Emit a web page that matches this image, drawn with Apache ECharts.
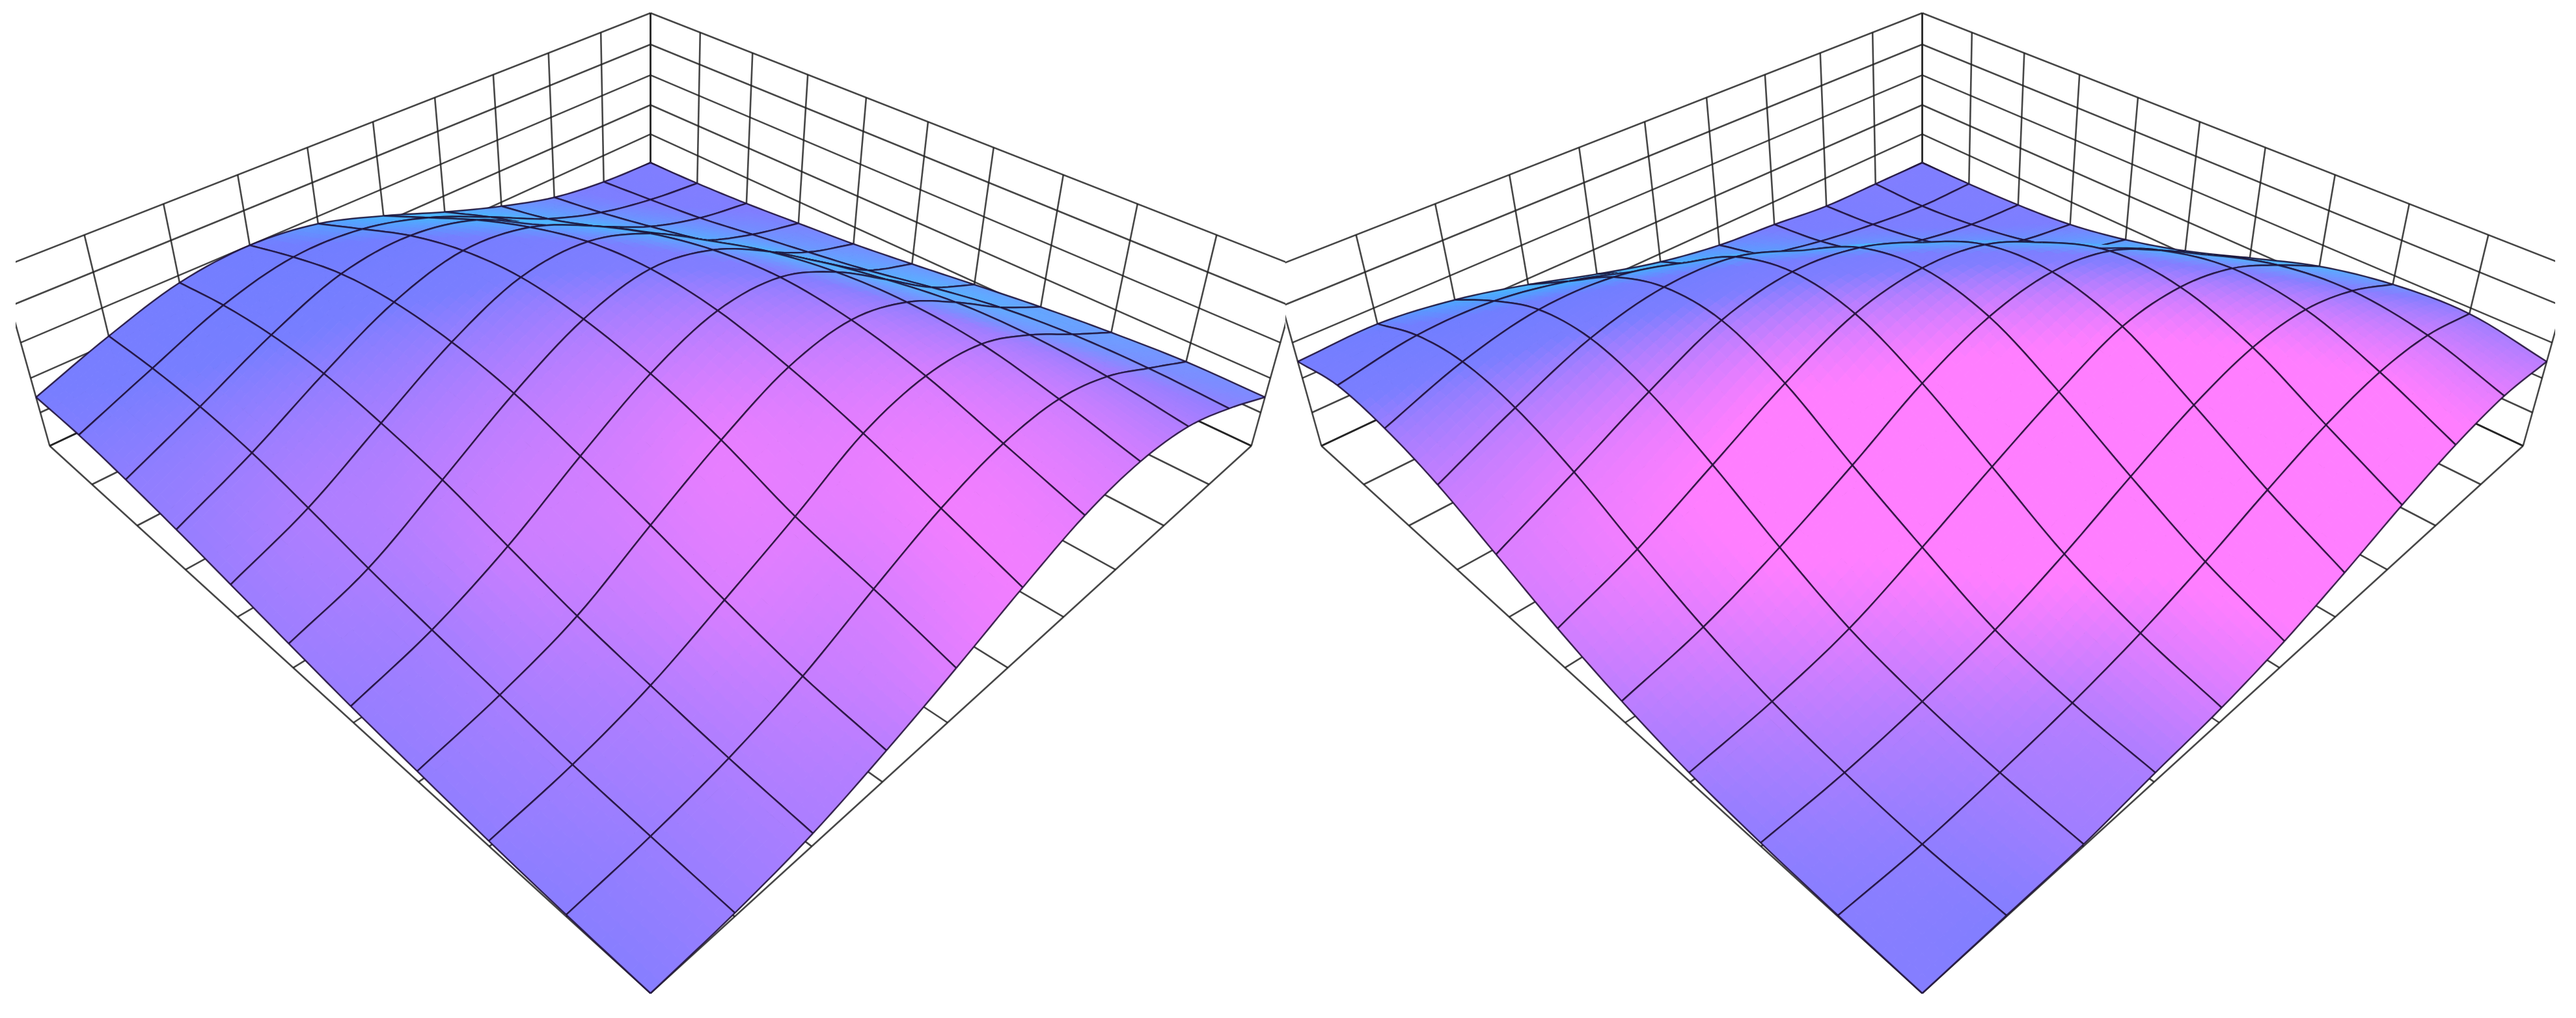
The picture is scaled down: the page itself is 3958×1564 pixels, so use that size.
<!DOCTYPE html>
<html><head><meta charset="utf-8">
<style>html,body{margin:0;padding:0;background:#fff}#c{width:3958px;height:1564px}</style>
<script src="https://cdn.jsdelivr.net/npm/echarts@6/dist/echarts.min.js"></script>
</head><body><div id="c"></div>
<script>
// ---- data: height (0..5) at each mesh node, rows = u, columns = v
const uTicks = [0,1,2,3,4,5,6,7,8,9,10];
const vTicks = [0,1,2,3,4,5,6,7,8,9,10];
const zLevels = [0,1,2,3,4,5];
const heightsLeft = [
 [0,.05,.15,.3,.46,.68,.92,1.15,1.33,1.45,1.45],
 [.1,.28,.48,.77,1.06,1.37,1.75,2.08,2.25,2.28,2.2],
 [.36,.66,1.03,1.44,1.97,2.51,2.89,3.16,3.21,3.08,2.8],
 [.87,1.28,1.87,2.53,3.14,3.68,4.0,4.1,3.95,3.53,3.0],
 [1.5,2.16,2.76,3.56,4.19,4.6,4.76,4.58,4.13,3.47,2.79],
 [2.2,2.97,3.73,4.36,4.82,4.98,4.82,4.36,3.73,2.97,2.2],
 [2.79,3.47,4.13,4.58,4.76,4.6,4.19,3.56,2.76,2.16,1.5],
 [3.0,3.53,3.95,4.1,4.0,3.68,3.14,2.53,1.87,1.28,.87],
 [2.8,3.08,3.21,3.16,2.89,2.51,1.97,1.44,1.03,.66,.36],
 [2.2,2.28,2.25,2.08,1.75,1.37,1.06,.77,.48,.28,.1],
 [1.45,1.45,1.33,1.15,.92,.68,.46,.3,.15,.05,0]
];
const heightsRight = [
 [0,.03,.1,.26,.6,1.1,1.75,2.38,2.75,2.84,2.47],
 [.03,.06,.26,.59,1.14,1.89,2.72,3.30,3.48,3.2,2.55],
 [.06,.26,.59,1.1,1.94,2.91,3.72,4.1,3.9,3.2,2.3],
 [.26,.55,1.06,1.94,2.9,3.94,4.57,4.5,3.86,2.84,1.83],
 [.42,.97,1.76,2.86,3.94,4.74,4.9,4.41,3.37,2.24,1.25],
 [.75,1.55,2.6,3.72,4.66,5.0,4.66,3.72,2.6,1.55,.75],
 [1.25,2.24,3.37,4.41,4.9,4.74,3.94,2.86,1.76,.97,.42],
 [1.83,2.84,3.86,4.5,4.57,3.94,2.9,1.94,1.06,.55,.26],
 [2.3,3.2,3.9,4.1,3.72,2.91,1.94,1.1,.59,.26,.06],
 [2.55,3.2,3.48,3.30,2.72,1.89,1.14,.59,.26,.06,.03],
 [2.47,2.84,2.75,2.38,1.75,1.1,.6,.26,.1,.03,0]
];

// ---- camera: perspective projection of (u,v,z) into axis units
function project(u,v,z){
  const t=u+v, s=u-v, w=1+.04667*t-.0225*z;
  return [135.4*s/w,(1526-52.13*t-89.4*z)/w];
}
function cr(a,b,c,d,f){return .5*(2*b+(c-a)*f+(2*a-5*b+4*c-d)*f*f+(3*b-a-3*c+d)*f*f*f);}
function nodeAt(Z,i,j){
  const n=Z.length-1;
  const a=Math.max(0,Math.min(n,i)), b=Math.max(0,Math.min(n,j));
  let val=Z[a][b];
  if(i<0) val=2*Z[0][b]-Z[1][b]; else if(i>n) val=2*Z[n][b]-Z[n-1][b];
  if(j<0) val=2*Z[a][0]-Z[a][1]; else if(j>n) val=2*Z[a][n]-Z[a][n-1];
  return val;
}
function height(Z,u,v){
  const i=Math.min(9,Math.floor(u)), j=Math.min(9,Math.floor(v)), fu=u-i, fv=v-j, col=[];
  for(let a=-1;a<=2;a++) col.push(cr(nodeAt(Z,i+a,j-1),nodeAt(Z,i+a,j),nodeAt(Z,i+a,j+1),nodeAt(Z,i+a,j+2),fv));
  return cr(col[0],col[1],col[2],col[3],fu);
}
function shade(Z,u,v){
  const h=1, u0=Math.max(0,u-h),u1=Math.min(10,u+h),v0=Math.max(0,v-h),v1=Math.min(10,v+h);
  const zu=(height(Z,u1,v)-height(Z,u0,v))/(u1-u0), zv=(height(Z,u,v1)-height(Z,u,v0))/(v1-v0);
  const back=Math.max(0,-zu-zv-.55);
  const r=Math.max(78,Math.min(255,128-10*zu+(zv>0?155:25)*zv-50*back));
  const g=Math.min(185,126+62*back);
  return 'rgb('+Math.round(r)+','+Math.round(g)+',255)';
}
const SUB=8;
function surfaceRenderer(Z){
  return function(params,api){
    const u=api.value(0), v=api.value(1), kids=[];
    const P=(a,b)=>api.coord(project(a,b,height(Z,a,b)));
    for(let a=SUB-1;a>=0;a--) for(let b=SUB-1;b>=0;b--){
      const a0=u+a/SUB,a1=u+(a+1)/SUB,b0=v+b/SUB,b1=v+(b+1)/SUB;
      const col=shade(Z,(a0+a1)/2,(b0+b1)/2);
      kids.push({type:'polygon',shape:{points:[P(a0,b0),P(a1,b0),P(a1,b1),P(a0,b1)]},
        style:{fill:col,stroke:col,lineWidth:1}});
    }
    const edge=(f)=>{const pts=[];for(let k=0;k<=SUB;k++)pts.push(f(k/SUB));
      kids.push({type:'polyline',shape:{points:pts},style:{fill:null,stroke:'rgba(25,10,45,.82)',lineWidth:2.5}});};
    edge(k=>P(u+1,v+k)); edge(k=>P(u+k,v+1)); edge(k=>P(u,v+k)); edge(k=>P(u+k,v));
    return {type:'group',children:kids};
  };
}
function wallRenderer(params,api){
  const kind=api.value(0), k=api.value(1), m=uTicks[uTicks.length-1], top=zLevels[zLevels.length-1];
  let a,b;
  if(kind===0){a=[k,m,0];b=[k,m,top];}        // verticals on the wall v = max
  else if(kind===1){a=[m,k,0];b=[m,k,top];}   // verticals on the wall u = max
  else if(kind===2){a=[0,m,k];b=[m,m,k];}     // level rings
  else if(kind===3){a=[m,0,k];b=[m,m,k];}
  else if(kind===4){a=[k,0,0];b=[k,m,0];}     // floor
  else {a=[0,k,0];b=[m,k,0];}
  return {type:'line',shape:{x1:api.coord(project(...a))[0],y1:api.coord(project(...a))[1],
    x2:api.coord(project(...b))[0],y2:api.coord(project(...b))[1]},
    style:{stroke:'rgba(30,30,30,.82)',lineWidth:2.6}};
}
const wallItems=[];
uTicks.forEach(k=>{wallItems.push([0,k]);wallItems.push([1,k]);wallItems.push([4,k]);wallItems.push([5,k]);});
zLevels.forEach(k=>{wallItems.push([2,k]);wallItems.push([3,k]);});
const cells=[];
uTicks.slice(0,-1).forEach(u=>vTicks.slice(0,-1).forEach(v=>cells.push([u,v])));
cells.sort((p,q)=>(q[0]+q[1])-(p[0]+p[1]));

const panels=[{left:24,width:1951,cx:999.5,Z:heightsLeft},{left:1975,width:1951,cx:2953.5,Z:heightsRight}];
const option={
  animation:false,backgroundColor:'#fff',
  grid:panels.map(p=>({left:p.left,width:p.width,top:0,height:1564,containLabel:false})),
  xAxis:panels.map((p,i)=>({type:'value',gridIndex:i,show:false,min:p.left-p.cx,max:p.left+p.width-p.cx})),
  yAxis:panels.map((p,i)=>({type:'value',gridIndex:i,show:false,min:0,max:1564,inverse:true})),
  series:[]
};
panels.forEach((p,i)=>{
  option.series.push({type:'custom',xAxisIndex:i,yAxisIndex:i,clip:true,silent:true,renderItem:wallRenderer,data:wallItems,progressive:0});
  option.series.push({type:'custom',xAxisIndex:i,yAxisIndex:i,clip:true,silent:true,renderItem:surfaceRenderer(p.Z),data:cells,progressive:0});
});
const chart=echarts.init(document.getElementById('c'),null,{renderer:'canvas',width:3958,height:1564});
chart.setOption(option);
</script></body></html>
